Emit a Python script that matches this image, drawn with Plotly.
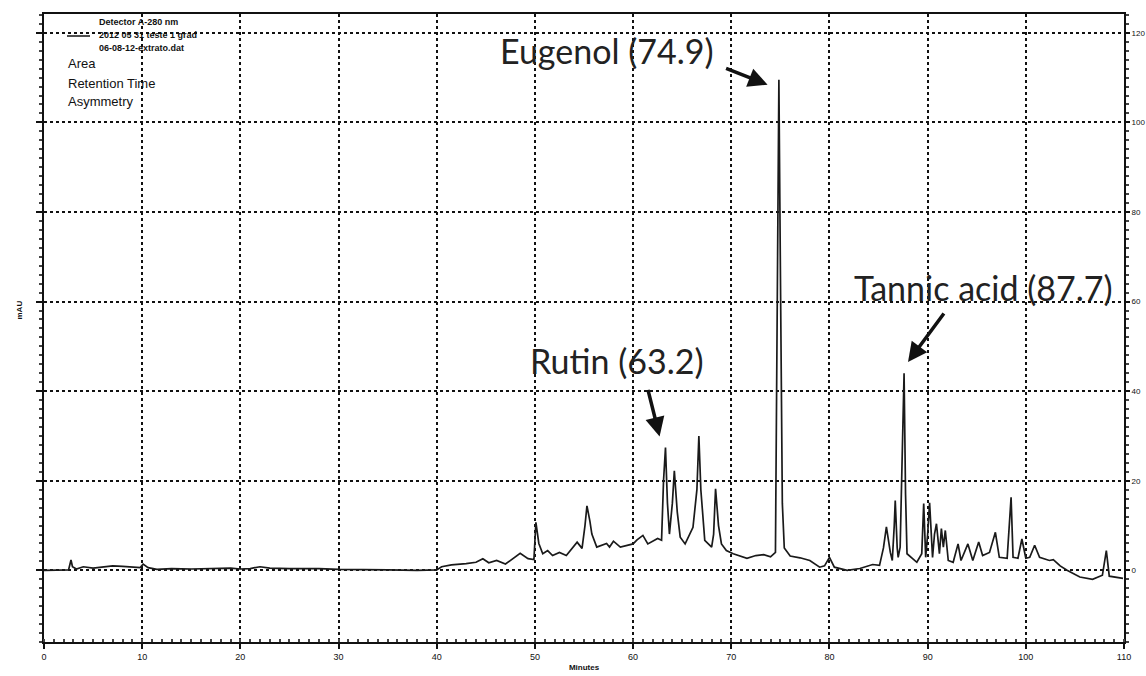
import plotly.graph_objects as go

# Chromatogram trace (Minutes, mAU)
minutes = [0, 2.5, 2.75, 2.9, 3.3, 4, 5, 6, 7, 8, 9, 9.8, 10.1, 10.6, 11.5, 13, 15, 17, 19, 20, 21, 22, 23, 25, 28, 30,
           32, 35, 38, 40, 40.5, 41.5, 43, 44, 44.7, 45.3, 46.1, 47, 48.5, 49.3, 49.9, 50.1, 50.4, 50.8, 51.3, 51.8,
           52.5, 53.2, 54.3, 54.8, 55.1, 55.3, 55.6, 55.8, 56.3, 57.3, 57.6, 58, 58.7, 60, 60.4, 61, 61.5, 62.5, 62.9,
           63.1, 63.3, 63.5, 63.7, 64.0, 64.2, 64.5, 64.8, 65.3, 66.1, 66.5, 66.7, 66.9, 67.3, 68, 68.2, 68.4, 68.7,
           69, 69.5, 70.2, 71.6, 72.5, 73.3, 74, 74.5, 74.7, 74.85, 75.0, 75.2, 75.4, 76, 77, 78, 79, 79.5, 80, 80.5,
           81.8, 83.1, 84.4, 85.1, 85.5, 85.8, 86.2, 86.4, 86.6, 86.7, 86.9, 87, 87.2, 87.45, 87.6, 87.75, 87.9, 88.9,
           89.4, 89.6, 89.8, 90.0, 90.2, 90.5, 90.7, 90.9, 91.2, 91.4, 91.6, 91.8, 92.1, 92.6, 93.1, 93.4, 94.1, 94.6,
           95.2, 95.6, 96.3, 96.9, 97.3, 98.1, 98.5, 98.7, 99.2, 99.6, 100, 100.4, 100.9, 101.4, 102.4, 102.8, 103.5,
           104.2, 105.5, 106.8, 107.8, 108.2, 108.5, 109.9]
mau = [0, 0.1, 2.3, 0.8, 0.3, 0.8, 0.5, 0.7, 1.0, 0.9, 0.8, 0.6, 1.4, 0.6, 0.2, 0.4, 0.3, 0.4, 0.5, 0.3, 0.4, 0.8, 0.5,
       0.4, 0.4, 0.2, 0.2, 0.1, 0.0, 0.1, 0.8, 1.2, 1.5, 1.8, 2.6, 1.7, 2.2, 1.4, 3.8, 2.6, 2.4, 10.7, 6, 3.7, 4.4,
       3.3, 4.0, 3.3, 6.3, 4.9, 10, 14.4, 11, 8.1, 5.2, 6.0, 5.2, 6.5, 5.2, 5.9, 6.8, 7.8, 5.9, 7.1, 6.7, 20, 27.4,
       15, 8.1, 15, 22.2, 13, 7.4, 5.9, 9.6, 18, 30, 18, 6.7, 5.2, 8, 18.2, 10, 5.9, 4.4, 3.7, 2.7, 3.3, 3.5, 3.0,
       4, 68, 109.5, 68, 15, 5, 3.2, 2.8, 2.2, 0.7, 1, 2.9, 0.7, 0, 0.4, 1.3, 1.1, 5, 9.7, 4, 2.2, 10, 15.6, 5, 2.9,
       5.2, 30, 44, 17, 3.7, 1.8, 3.7, 14.9, 2.9, 8, 15.1, 2.9, 8.1, 10.4, 3.7, 9.3, 5.2, 8.9, 2.2, 1.8, 5.9, 2.2,
       5.9, 2.2, 6.3, 3.3, 4.0, 8.5, 2.9, 2.7, 16.3, 2.9, 2.7, 7.0, 2.7, 2.9, 5.6, 2.9, 2.2, 2.4, 1, 0, -1.5, -2.0,
       -1.1, 4.4, -1.3, -1.8]

x_ticks = [0, 10, 20, 30, 40, 50, 60, 70, 80, 90, 100, 110]
y_ticks = [0, 20, 40, 60, 80, 100, 120]

peak_labels = ["Eugenol (74.9)", "Rutin (63.2)", "Tannic acid (87.7)"]
peak_heads = [(73.7, 108.4), (62.7, 29.9), (88.0, 46.5)]
label_pos = [(57.3, 116.0), (58.4, 46.8), (95.7, 63.2)]
arrow_offsets = [(-43, -17), (-12, -48), (37, -50)]

XR = [0, 110]
YR = [-16, 124.2]

fig = go.Figure()
fig.add_trace(go.Scatter(x=minutes, y=mau, mode="lines",
                         line=dict(color="#1a1a1a", width=1.7),
                         showlegend=False, hoverinfo="skip"))
fig.add_trace(go.Scatter(x=[None], y=[None], yaxis="y2", mode="lines",
                         showlegend=False, hoverinfo="skip"))

tickfont = dict(family="Liberation Sans, Arial", size=9, color="#111")
ytickfont = dict(family="Liberation Sans Narrow, Liberation Sans, Arial", size=8, color="#111")
fig.update_layout(
    width=1146, height=676,
    margin=dict(l=44, r=22, t=14, b=34),
    paper_bgcolor="white", plot_bgcolor="white",
    xaxis=dict(range=XR, tickvals=x_ticks, showgrid=True, gridcolor="#111", griddash="dot", gridwidth=1.5,
               zeroline=False, showline=True, linecolor="#111", linewidth=2, mirror=True,
               ticks="outside", ticklen=5, tickcolor="#111", tickwidth=1.5,
               minor=dict(ticks="inside", dtick=1, ticklen=3, tickcolor="#444", showgrid=False),
               tickfont=tickfont, automargin=False,
               title=dict(text="<b>Minutes</b>", font=dict(family="Liberation Sans, Arial", size=8, color="#111"),
                          standoff=4)),
    yaxis=dict(range=YR, tickvals=y_ticks, side="right", showgrid=True, gridcolor="#111", griddash="dot",
               gridwidth=1.5, zeroline=False, showline=True, linecolor="#111", linewidth=2,
               ticks="outside", ticklen=4, tickcolor="#111", tickwidth=1.5,
               minor=dict(ticks="outside", dtick=2, ticklen=3, tickcolor="#444", showgrid=False),
               tickfont=ytickfont, automargin=False),
    yaxis2=dict(range=YR, overlaying="y", side="left", showgrid=False, zeroline=False, showline=True,
                linecolor="#111", linewidth=2, showticklabels=False, tickvals=y_ticks,
                ticks="outside", ticklen=6, tickcolor="#111", tickwidth=1.5,
                minor=dict(ticks="outside", dtick=2, ticklen=3, tickcolor="#444", showgrid=False),
                automargin=False),
)

# y-axis title at far left
fig.add_annotation(text="<b>mAU</b>", xref="paper", yref="paper", x=(12 - 44) / 1080, y=(642 - 310) / 628,
                   textangle=-90, showarrow=False, font=dict(family="Liberation Sans, Arial", size=8, color="#111"))

# header / legend text block
small = dict(family="Liberation Sans Narrow, Liberation Sans, Arial", size=9, color="#111")
for txt, py in [("<b>Detector A-280 nm</b>", 22), ("<b>2012 05 31 teste 1 grad</b>", 35),
                ("<b>06-08-12-extrato.dat</b>", 48)]:
    fig.add_annotation(text=txt, xref="paper", yref="paper", x=(97 - 44) / 1080, y=(642 - py) / 628,
                       xanchor="left", yanchor="middle", showarrow=False, font=small)
fig.add_shape(type="line", xref="paper", yref="paper", x0=(67 - 44) / 1080, x1=(90 - 44) / 1080,
              y0=(642 - 36) / 628, y1=(642 - 36) / 628, line=dict(color="#111", width=1.5))
mid = dict(family="Liberation Sans, Arial", size=13, color="#111")
for txt, py in [("Area", 64), ("Retention Time", 83), ("Asymmetry", 101)]:
    fig.add_annotation(text=txt, xref="paper", yref="paper", x=(66 - 44) / 1080, y=(642 - py) / 628,
                       xanchor="left", yanchor="middle", showarrow=False, font=mid)

big = dict(family="Lato, Open Sans, sans-serif", size=34, color="#222")
for lbl, (lx, ly), (hx, hy), (ax, ay) in zip(peak_labels, label_pos, peak_heads, arrow_offsets):
    fig.add_annotation(text=lbl, x=lx, y=ly, showarrow=False, font=big, xanchor="center", yanchor="middle")
    fig.add_annotation(text="", x=hx, y=hy, ax=ax, ay=ay, axref="pixel", ayref="pixel",
                       showarrow=True, arrowhead=2, arrowsize=1.1, arrowwidth=3.5, arrowcolor="#111")

fig.write_html("out.html")
